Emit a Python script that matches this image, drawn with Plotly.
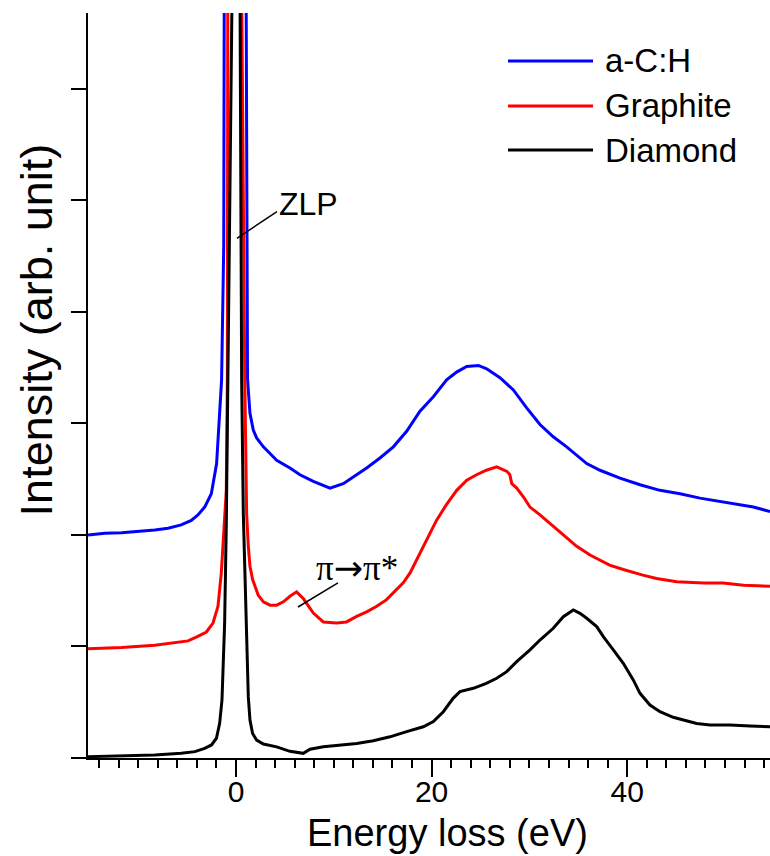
import plotly.graph_objects as go

# ---- data ----
ach_x = [-15.13, -13.4, -11.7, -10.0, -8.3, -6.95, -5.6, -4.57, -3.89, -3.2, -2.52, -1.98, -1.64,
         -1.47, -1.25, -1.05, -0.5, 0, 0.5, 1.0, 1.1, 1.18, 1.43, 1.77, 2.11, 2.8, 3.48, 4.16,
         5.52, 6.54, 7.91, 9.61, 10.97, 12.34, 13.36, 14.72, 16.09, 17.45, 18.81, 20.18, 21.54,
         22.56, 23.59, 24.78, 25.63, 26.99, 28.36, 29.72, 31.08, 32.44, 33.81, 35.86, 37.22,
         39.26, 41.31, 43.35, 45.4, 47.44, 49.49, 50.85, 52.9, 54.6]
ach_y = [2.0, 2.015, 2.02, 2.03, 2.045, 2.06, 2.09, 2.13, 2.18, 2.25, 2.37, 2.64, 3.09,
         3.39, 4.6, 6.7, 20, 60, 20, 6.7, 4.2, 3.4, 3.09, 2.94, 2.87, 2.79, 2.73, 2.67,
         2.60, 2.54, 2.48, 2.42, 2.46, 2.54, 2.60, 2.69, 2.79, 2.93, 3.11, 3.24, 3.39,
         3.46, 3.51, 3.52, 3.49, 3.41, 3.30, 3.14, 2.99, 2.88, 2.79, 2.64, 2.58,
         2.51, 2.45, 2.40, 2.37, 2.33, 2.30, 2.28, 2.25, 2.21]

gra_x = [-15.13, -11.7, -8.3, -6.3, -4.9, -3.9, -3.03, -2.35, -1.84, -1.5, -1.16, -0.99, -0.88,
         -0.72, -0.3, 0, 0.3, 0.6, 0.9, 1.09, 1.26, 1.43, 1.7, 1.94, 2.28, 2.8, 3.48, 4.16,
         4.84, 5.52, 6.2, 6.88, 7.91, 8.93, 10.3, 11.3, 12.34, 13.36, 14.39, 15.4, 16.4, 17.1,
         17.8, 18.5, 19.15, 19.84, 20.5, 21.5, 22.57, 23.6, 24.6, 25.6, 26.66, 27.7, 28.0,
         28.2, 28.7, 29.4, 30.06, 31.08, 32.1, 33.47, 34.8, 36.2, 38.2, 39.6, 41.6, 43.0,
         45.06, 47.8, 49.8, 51.9, 54.6]
gra_y = [0.98, 0.99, 1.01, 1.03, 1.05, 1.09, 1.13, 1.21, 1.36, 1.66, 2.1, 2.4, 3.4,
         6.7, 20, 80, 20, 6.7, 3.4, 2.19, 1.90, 1.72, 1.60, 1.54, 1.46, 1.40, 1.37, 1.37,
         1.40, 1.45, 1.49, 1.43, 1.30, 1.22, 1.21, 1.22, 1.27, 1.31, 1.36, 1.42, 1.51, 1.57,
         1.66, 1.78, 1.90, 2.02, 2.13, 2.27, 2.40, 2.49, 2.54, 2.58, 2.61, 2.57, 2.54,
         2.46, 2.42, 2.34, 2.25, 2.18, 2.10, 2.0, 1.90, 1.82, 1.73, 1.69, 1.64, 1.61,
         1.58, 1.57, 1.57, 1.55, 1.54]

dia_x = [-15.13, -11.7, -8.3, -5.6, -4.2, -3.2, -2.5, -2.0, -1.67, -1.43, -1.26, -1.16, -0.99,
         -0.82, -0.42, -0.2, 0, 0.2, 0.42, 0.58, 0.75, 0.92, 1.09, 1.26, 1.43, 1.7, 2.11, 2.8,
         4.16, 5.52, 6.88, 7.57, 8.93, 10.63, 12.34, 14.04, 15.75, 17.45, 19.15, 20.18, 21.2,
         22.2, 22.9, 24.26, 25.6, 26.66, 27.68, 28.7, 30.06, 31.08, 32.44, 33.47, 34.49, 35.17,
         35.86, 36.88, 37.56, 38.58, 39.6, 40.62, 41.31, 42.33, 43.35, 44.7, 45.74, 47.1,
         48.47, 50.5, 52.56, 54.6]
dia_y = [0.012, 0.018, 0.027, 0.042, 0.057, 0.087, 0.117, 0.177, 0.311, 0.52, 0.91, 1.21, 2.1,
         3.4, 6.7, 20, 100, 20, 6.7, 3.39, 2.19, 1.6, 1.0, 0.55, 0.34, 0.22, 0.16, 0.125,
         0.10, 0.06, 0.042, 0.078, 0.10, 0.117, 0.13, 0.155, 0.19, 0.236, 0.28, 0.326, 0.415,
         0.535, 0.595, 0.625, 0.67, 0.715, 0.774, 0.864, 0.969, 1.058, 1.163, 1.267, 1.327, 1.297,
         1.253, 1.178, 1.088, 0.969, 0.849, 0.70, 0.58, 0.475, 0.415, 0.365, 0.34, 0.31,
         0.296, 0.296, 0.287, 0.28]

series_names = ["a-C:H", "Graphite", "Diamond"]
series_colors = ["#0000ff", "#ff0000", "#000000"]
x_ticks = [0, 20, 40]
x_range = [-15.13, 54.6]
y_range = [0, 6.68]

FONT = "Liberation Sans, Arial, sans-serif"

fig = go.Figure()
for name, xs, ys, col in zip(series_names, [ach_x, gra_x, dia_x], [ach_y, gra_y, dia_y], series_colors):
    fig.add_trace(go.Scatter(x=xs, y=ys, mode="lines", name=name,
                             line=dict(color=col, width=3), showlegend=False))

# custom legend (long line samples as in the reference)
leg_y = [0.9356, 0.8752, 0.8161]
for name, col, yy in zip(series_names, series_colors, leg_y):
    fig.add_shape(type="line", xref="paper", yref="paper", x0=0.6158, x1=0.7405, y0=yy, y1=yy,
                  line=dict(color=col, width=3))
    fig.add_annotation(xref="paper", yref="paper", x=0.7551, y=yy, text=name, showarrow=False,
                       xanchor="left", yanchor="middle", font=dict(family=FONT, size=33, color="black"))

# peak annotations
fig.add_shape(type="line", xref="x", yref="y", x0=0.1, y0=4.66, x1=4.19, y1=4.90,
              line=dict(color="black", width=1.5))
fig.add_annotation(xref="x", yref="y", x=4.19, y=4.97, text="ZLP", showarrow=False,
                   xanchor="left", yanchor="middle", font=dict(family=FONT, size=32, color="black"))
fig.add_shape(type="line", xref="x", yref="y", x0=6.34, y0=1.354, x1=10.43, y1=1.57,
              line=dict(color="black", width=1.5))
fig.add_annotation(xref="x", yref="y", x=12.37, y=1.70,
                   text="π<span style='font-family:DejaVu Sans'>→</span>π*", showarrow=False,
                   xanchor="center", yanchor="middle",
                   font=dict(family="Liberation Serif, Times New Roman, serif", size=35, color="black"))

# axis titles
fig.add_annotation(xref="paper", yref="paper", x=0.5264, y=-0.1, text="Energy loss (eV)",
                   showarrow=False, xanchor="center", yanchor="middle",
                   font=dict(family=FONT, size=38, color="black"))
fig.add_annotation(xref="paper", yref="paper", x=-0.0762, y=0.574, text="Intensity (arb. unit)",
                   showarrow=False, xanchor="center", yanchor="middle", textangle=-90,
                   font=dict(family=FONT, size=45, color="black"))

fig.update_layout(
    width=770, height=856,
    margin=dict(l=88, r=0, t=13, b=98),
    paper_bgcolor="white", plot_bgcolor="white",
    font=dict(family=FONT, color="black"),
    xaxis=dict(range=x_range, showgrid=False, zeroline=False, showline=True, linecolor="black",
               linewidth=2, ticks="outside", ticklen=17, tickwidth=2, tickcolor="black",
               tickvals=x_ticks, ticktext=[str(v) for v in x_ticks],
               tickfont=dict(family=FONT, size=30, color="black"), ticklabelstandoff=-11,
               minor=dict(dtick=2, tick0=0, ticks="outside", ticklen=8, tickwidth=2, tickcolor="black")),
    yaxis=dict(range=y_range, showgrid=False, zeroline=False, showline=True, linecolor="black",
               linewidth=2, ticks="outside", ticklen=15, tickwidth=2, tickcolor="black",
               dtick=1, tick0=0, showticklabels=False),
)

fig.write_html("out.html")
